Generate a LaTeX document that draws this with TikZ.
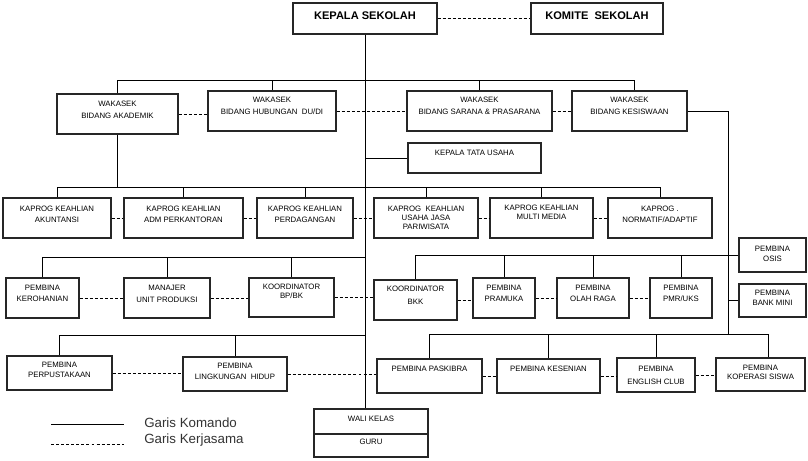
\documentclass[tikz,border=0pt]{standalone}
\usepackage{fontspec}
\setmainfont{Liberation Sans}
\usetikzlibrary{fit}
\tikzset{
 box/.style={draw=black!85, line width=0.9pt, inner sep=0pt, fill=white},
 txt/.style={font=\fontsize{5.85}{8.6}\selectfont, align=center, inner sep=0pt},
 tight/.style={font=\fontsize{5.85}{6.75}\selectfont},
 mid/.style={font=\fontsize{5.85}{7.5}\selectfont},
 wide/.style={font=\fontsize{5.85}{9.75}\selectfont},
 ttl/.style={font=\fontsize{8.3}{10}\bfseries\selectfont},
 con/.style={line width=0.75pt},
 dsh/.style={line width=0.75pt, dash pattern=on 2.2pt off 1.6pt},
 leg/.style={font=\fontsize{10}{12}\selectfont, text=black!80, inner sep=0pt},
}
\newcommand\ob[6]{\node[box, fit={#2 #3}] (#1) {}; \node[txt,#5] (#1t) at ([yshift=#4]#1.center) {#6};}
\begin{document}
\begin{tikzpicture}[x=0.75pt,y=-0.75pt]
\useasboundingbox[fill=white] (0,0) rectangle (808,461);
% boxes
\ob{ks}{(293,3)}{(437,34)}{2.2pt}{ttl}{KEPALA SEKOLAH}
\ob{km}{(531,3)}{(663,34)}{2.2pt}{ttl}{KOMITE\ \ SEKOLAH}
\ob{wa}{(57,94)}{(178,134)}{3pt}{}{WAKASEK\\BIDANG AKADEMIK}
\ob{wh}{(208,91)}{(336,131)}{3.75pt}{}{WAKASEK\\BIDANG HUBUNGAN\ \ DU/DI}
\ob{ws}{(407,91)}{(552,131)}{3.75pt}{}{WAKASEK\\BIDANG SARANA \& PRASARANA}
\ob{wk}{(572,91)}{(687,131)}{3.75pt}{}{WAKASEK\\BIDANG KESISWAAN}
\ob{tu}{(408,143)}{(541,173)}{3.75pt}{}{KEPALA TATA USAHA}
\ob{k1}{(3,198)}{(111,238)}{2.6pt}{}{KAPROG KEAHLIAN\\AKUNTANSI}
\ob{k2}{(124,198)}{(243,238)}{2.6pt}{}{KAPROG KEAHLIAN\\ADM PERKANTORAN}
\ob{k3}{(257,198)}{(353,238)}{2.6pt}{}{KAPROG KEAHLIAN\\PERDAGANGAN}
\ob{k4}{(374,198)}{(478,238)}{0.5pt}{tight}{KAPROG\ \ KEAHLIAN\\USAHA JASA\\PARIWISATA}
\ob{k5}{(490,198)}{(593,238)}{4pt}{tight}{KAPROG KEAHLIAN\\MULTI MEDIA}
\ob{k6}{(608,198)}{(712,238)}{2.6pt}{}{KAPROG .\\NORMATIF/ADAPTIF}
\ob{p1}{(6,278)}{(79,318)}{3.4pt}{}{PEMBINA\\KEROHANIAN}
\ob{p2}{(124,278)}{(210,318)}{3pt}{}{MANAJER\\UNIT PRODUKSI}
\ob{p3}{(249,278)}{(334,317)}{4.5pt}{tight}{KOORDINATOR\\BP/BK}
\ob{bkk}{(374,280)}{(457,320)}{3.4pt}{wide}{KOORDINATOR\\BKK}
\ob{pr}{(473,278)}{(535,318)}{3.4pt}{}{PEMBINA\\PRAMUKA}
\ob{ol}{(557,278)}{(629,318)}{3.4pt}{}{PEMBINA\\OLAH RAGA}
\ob{pm}{(650,278)}{(712,318)}{3.4pt}{}{PEMBINA\\PMR/UKS}
\ob{os}{(739,238)}{(806,272)}{0.75pt}{mid}{PEMBINA\\OSIS}
\ob{bm}{(739,284)}{(806,317)}{1.9pt}{mid}{PEMBINA\\BANK MINI}
\ob{pp}{(7,356)}{(112,390)}{2.2pt}{mid}{PEMBINA\\PERPUSTAKAAN}
\ob{lh}{(183,357)}{(287,391)}{1.9pt}{}{PEMBINA\\LINGKUNGAN\ \ HIDUP}
\ob{pk}{(377,359)}{(482,393)}{5.25pt}{}{PEMBINA PASKIBRA}
\ob{ke}{(497,359)}{(600,393)}{5.25pt}{}{PEMBINA KESENIAN}
\ob{en}{(617,358)}{(695,392)}{0pt}{wide}{PEMBINA\\ENGLISH CLUB}
\ob{ko}{(716,358)}{(805,391)}{1.5pt}{tight}{PEMBINA\\KOPERASI SISWA}
\ob{wali}{(314,409)}{(428,434)}{1.9pt}{}{WALI KELAS}
\ob{guru}{(314,434)}{(428,457)}{3pt}{}{GURU}
% command lines
\coordinate (b1) at (0,80);
\coordinate (b2) at (0,187);
\coordinate (b3) at (0,257);
\coordinate (b4) at (0,334);
\coordinate (b5) at (0,335);
\coordinate (kr) at (728,0);
\coordinate (wkd) at ([xshift=4pt]wk.north);
\coordinate (kod) at ([xshift=6pt]ko.north);
\draw[con] (ks.south) -- (ks.south |- wali.north);
\draw[con] (wa.north) -- (wa.north |- b1) -- (wkd |- b1) -- (wkd);
\foreach \n in {wh,ws} \draw[con] (\n.north) -- (\n.north |- b1);
\draw[con] (tu.west) -- (tu.west -| ks.south);
\draw[con] (wa.south) -- (wa.south |- b2);
\draw[con] (k1.north) -- (k1.north |- b2) -- (k6.north |- b2) -- (k6.north);
\foreach \n in {k2,k3,k4,k5} \draw[con] (\n.north) -- (\n.north |- b2);
\draw[con] (p1.north) -- (p1.north |- b3) -- (ks.south |- b3);
\foreach \n in {p2,p3} \draw[con] (\n.north) -- (\n.north |- b3);
\draw[con] (bkk.north) |- (os.west);
\foreach \n in {pr,ol,pm} \draw[con] (\n.north) -- (\n.north |- os.west);
\draw[con] (wk.east) -| (kr |- b4);
\draw[con] (bm.west) -- (bm.west -| kr);
\draw[con] (pk.north) -- (pk.north |- b4) -- (kod |- b4) -- (kod);
\foreach \n in {ke,en} \draw[con] (\n.north) -- (\n.north |- b4);
\draw[con] (pp.north) -- (pp.north |- b5) -- (ks.south |- b5);
\draw[con] (lh.north) -- (lh.north |- b5);
% cooperation lines
\foreach \a/\b in {ks/km,wa/wh,wh/ws,ws/wk,k1/k2,k2/k3,k3/k4,k4/k5,k5/k6,p1/p2,p2/p3,p3/bkk,bkk/pr,pr/ol,ol/pm,pp/lh,lh/pk,pk/ke,ke/en,en/ko}
  \draw[dsh] (\a.east) -- (\a.east -| \b.west);
% legend
\coordinate (l1a) at (51,424);
\coordinate (l1b) at (124,424);
\coordinate (l2a) at (51,444);
\coordinate (l2b) at (124,444);
\draw[con] (l1a) -- (l1b);
\draw[dsh] (l2a) -- (l2b);
\node[leg, anchor=base west] (lg1) at (144,427) {Garis Komando};
\node[leg, anchor=base west] (lg2) at (144,443) {Garis Kerjasama};
\end{tikzpicture}
\end{document}
